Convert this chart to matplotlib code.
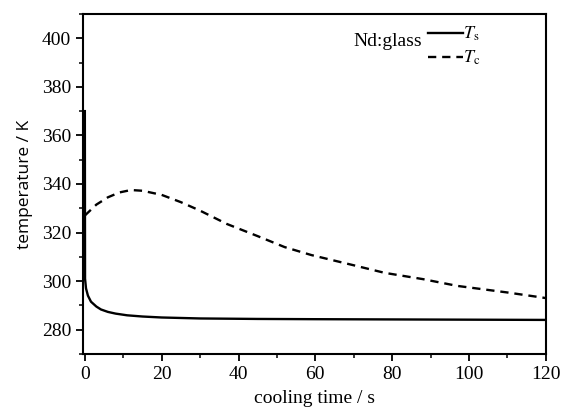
import matplotlib
matplotlib.use("Agg")
import matplotlib.pyplot as plt
from matplotlib.ticker import MultipleLocator

# cooling curves
t_s = [0, 0.05, 0.3, 0.8, 1.6, 3, 4.2, 6, 8, 11, 15, 20, 30, 45, 60, 80, 100, 120]
temp_s = [370, 301, 297, 294, 291.5, 289.5, 288.3, 287.3, 286.6, 285.9, 285.4,
          285.0, 284.6, 284.4, 284.3, 284.2, 284.1, 284.0]

t_c = [0, 3, 6, 9, 12, 15, 20, 25, 30, 37, 45, 52, 59, 70, 78, 88, 97, 110, 120]
temp_c = [327, 331.5, 334.5, 336.5, 337.5, 337.2, 335.5, 332.5, 329, 323.5,
          318.5, 314, 310.7, 306.5, 303.4, 300.8, 298, 295.3, 293]

x_ticks = [0, 20, 40, 60, 80, 100, 120]
y_ticks = [280, 300, 320, 340, 360, 380, 400]

plt.rcParams["font.family"] = ["Liberation Serif", "DejaVu Serif"]
plt.rcParams["mathtext.fontset"] = "stix"

fig = plt.figure(figsize=(5.68, 4.12), dpi=100)
ax = fig.add_axes([0.146, 0.141, 0.815, 0.825])

ax.plot(t_s, temp_s, color="black", lw=1.7, label="$T_\\mathrm{s}$")
ax.plot(t_c, temp_c, color="black", lw=1.7, dashes=(3.5, 2.5),
        label="$T_\\mathrm{c}$")

ax.set_xlim(-0.5, 120)
ax.set_ylim(270, 410)
ax.set_xticks(x_ticks)
ax.set_yticks(y_ticks)
ax.xaxis.set_minor_locator(MultipleLocator(10))
ax.yaxis.set_minor_locator(MultipleLocator(10))
ax.tick_params(which="major", direction="out", length=5, width=1.3, labelsize=14)
ax.tick_params(which="minor", direction="out", length=3, width=1.1)
for sp in ax.spines.values():
    sp.set_linewidth(1.5)

ax.set_xlabel("cooling time / s", fontsize=14, labelpad=5)
ax.set_ylabel("temperature / K", fontsize=12.5, family=["Open Sans", "DejaVu Sans"],
              labelpad=6)

ax.legend(loc="upper left", bbox_to_anchor=(0.715, 1.01), frameon=False,
          fontsize=13, handlelength=1.9, handletextpad=0.0, labelspacing=0.3,
          borderpad=0.3)
ax.text(0.732, 0.918, "Nd:glass", transform=ax.transAxes, fontsize=14,
        ha="right", va="center")

fig.savefig("out.png", dpi=100)
